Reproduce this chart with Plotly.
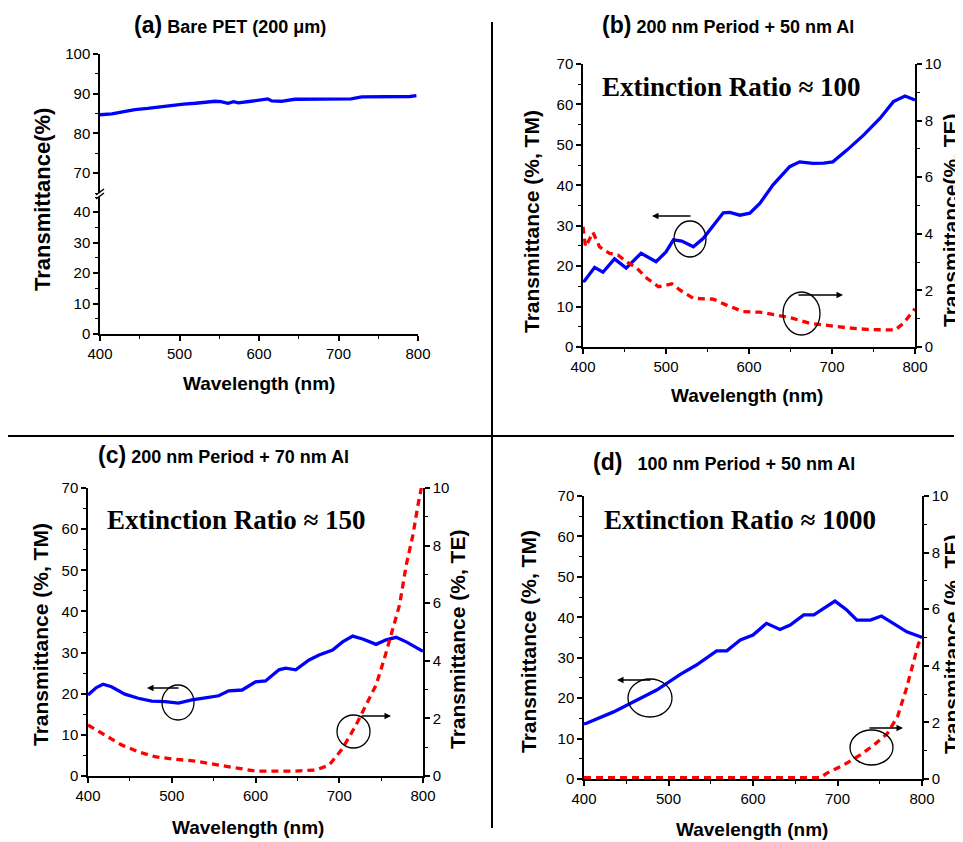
import plotly.graph_objects as go

# The page body has an 8 px margin, so the figure is drawn 8 px in from the window corner.
OFF = 8
W, H = 963 - OFF, 842 - OFF

# ---------------- data ----------------
a_wl = [400, 415, 430, 444, 460, 478, 495, 505, 520, 535, 545, 552, 561, 568, 574, 590, 605, 611, 616, 628, 645, 680, 716, 729, 760, 790, 798]
a_T = [84.7, 84.9, 85.5, 86.0, 86.3, 86.8, 87.2, 87.4, 87.6, 87.9, 88.1, 88.0, 87.6, 88.0, 87.7, 88.1, 88.4, 88.7, 88.2, 88.1, 88.6, 88.7, 88.7, 89.2, 89.2, 89.3, 89.5]

b_wl_tm = [400, 402, 414, 424, 438, 452, 470, 488, 500, 509, 519, 533, 545, 557, 569, 577, 589, 601, 613, 629, 649, 661, 677, 690, 701, 718, 738, 758, 774, 788, 800]
b_tm = [16.2, 16.4, 19.7, 18.5, 21.8, 19.5, 23.2, 21.1, 23.5, 26.5, 26.2, 24.8, 26.9, 30.2, 33.2, 33.3, 32.6, 33.1, 35.5, 40.1, 44.6, 45.8, 45.4, 45.5, 45.8, 48.7, 52.4, 56.6, 60.7, 62.1, 61.1]
b_wl_te = [400, 403, 406, 412, 420, 432, 442, 452, 465, 477, 491, 507, 517, 533, 557, 573, 593, 613, 633, 653, 673, 694, 718, 742, 762, 776, 786, 798, 800]
b_te = [4.25, 3.55, 3.7, 4.05, 3.54, 3.31, 3.25, 3.02, 2.78, 2.43, 2.13, 2.23, 2.01, 1.72, 1.69, 1.48, 1.25, 1.23, 1.13, 1.01, 0.84, 0.76, 0.68, 0.62, 0.60, 0.60, 0.84, 1.31, 1.35]

c_wl_tm = [400, 410, 418, 428, 444, 460, 476, 492, 508, 524, 540, 556, 568, 584, 600, 612, 628, 636, 648, 664, 676, 692, 704, 716, 728, 744, 756, 768, 780, 796, 800]
c_tm = [19.7, 21.5, 22.3, 21.7, 19.9, 18.9, 18.2, 18.1, 17.7, 18.5, 19.0, 19.5, 20.7, 20.9, 22.9, 23.1, 25.8, 26.2, 25.8, 28.2, 29.4, 30.6, 32.6, 34.0, 33.3, 32.0, 33.1, 33.7, 32.6, 30.6, 30.3]
c_wl_te = [400, 420, 440, 460, 480, 504, 528, 556, 580, 600, 624, 648, 672, 688, 704, 720, 732, 744, 754, 764, 772, 780, 788, 794, 798]
c_te = [1.77, 1.42, 1.08, 0.84, 0.67, 0.58, 0.52, 0.38, 0.27, 0.17, 0.17, 0.17, 0.21, 0.38, 0.96, 1.77, 2.47, 3.16, 4.09, 5.13, 5.94, 7.33, 8.37, 9.41, 10.0]

d_wl_tm = [400, 403, 435, 458, 486, 514, 533, 557, 569, 585, 600, 616, 632, 644, 660, 672, 684, 697, 711, 723, 739, 752, 766, 782, 798, 800]
d_tm = [13.6, 13.8, 16.6, 19.1, 22.0, 25.9, 28.2, 31.7, 31.7, 34.4, 35.6, 38.5, 37.0, 38.1, 40.6, 40.6, 42.2, 44.0, 41.8, 39.3, 39.3, 40.3, 38.5, 36.4, 35.2, 35.0]
d_wl_te = [400, 450, 500, 550, 600, 650, 680, 687, 707, 727, 743, 759, 771, 781, 790, 796, 800]
d_te = [0.05, 0.05, 0.04, 0.06, 0.04, 0.05, 0.05, 0.2, 0.49, 0.85, 1.2, 1.61, 2.2, 3.14, 4.09, 4.8, 4.95]

panel_titles = ["(a)", "Bare PET (200 μm)", "(b)", "200 nm Period + 50 nm Al",
                "(c)", "200 nm Period + 70 nm Al", "(d)", "100 nm Period + 50 nm Al"]
ratios = ["Extinction Ratio ≈ 100", "Extinction Ratio ≈ 150", "Extinction Ratio ≈ 1000"]

# ---------------- helpers (window pixel -> paper fraction) ----------------
def PX(x):
    return (x - OFF) / W

def PY(y):
    return 1 - (y - OFF) / H

FONT = "Liberation Sans, Arial, sans-serif"
SERIF = "Liberation Serif, Times New Roman, serif"
BLUE = "#0000FF"
RED = "#FF0000"

def axis(domain, rng, dtick, mdtick, anchor, **kw):
    d = dict(domain=domain, range=rng, dtick=dtick, tick0=0, showline=True, linecolor="black",
             linewidth=1.5, ticks="outside", ticklen=5, tickwidth=1.5, tickcolor="black",
             showgrid=False, zeroline=False, anchor=anchor, automargin=False,
             tickfont=dict(size=15, color="black", family=FONT),
             minor=dict(ticks="outside", ticklen=3, tickwidth=1.2, tickcolor="black", dtick=mdtick, tick0=0))
    d.update(kw)
    return d

fig = go.Figure()

tm_line = dict(color=BLUE, width=3.3)
te_line = dict(color=RED, width=3.3, dash="7px,5px")

# lower (broken) axis of panel (a) shares the same series, drawn invisibly to build the subplot
fig.add_trace(go.Scatter(x=a_wl, y=a_T, mode="none", xaxis="x", yaxis="y", hoverinfo="skip"))
fig.add_trace(go.Scatter(x=a_wl, y=a_T, mode="lines", line=tm_line, xaxis="x", yaxis="y2"))
fig.add_trace(go.Scatter(x=b_wl_tm, y=b_tm, mode="lines", line=tm_line, xaxis="x2", yaxis="y3"))
fig.add_trace(go.Scatter(x=b_wl_te, y=b_te, mode="lines", line=te_line, xaxis="x2", yaxis="y4"))
fig.add_trace(go.Scatter(x=c_wl_tm, y=c_tm, mode="lines", line=tm_line, xaxis="x3", yaxis="y5"))
fig.add_trace(go.Scatter(x=c_wl_te, y=c_te, mode="lines", line=te_line, xaxis="x3", yaxis="y6"))
fig.add_trace(go.Scatter(x=d_wl_tm, y=d_tm, mode="lines", line=tm_line, xaxis="x4", yaxis="y7"))
fig.add_trace(go.Scatter(x=d_wl_te, y=d_te, mode="lines", line=te_line, xaxis="x4", yaxis="y8"))

xr = [400, 800]
fig.update_layout(
    template="none",
    width=W, height=H, margin=dict(l=0, r=0, t=0, b=0, pad=0, autoexpand=False),
    paper_bgcolor="white", plot_bgcolor="rgba(0,0,0,0)", showlegend=False,
    font=dict(family=FONT, color="black"),
    # panel a
    xaxis=axis([PX(100), PX(418)], xr, 100, 50, "y"),
    yaxis=axis([PY(334), PY(197)], [0, 45], 10, 5, "x", tickvals=[0, 10, 20, 30, 40]),
    yaxis2=axis([PY(193), PY(54)], [65, 100], 10, 5, "x", tickvals=[70, 80, 90, 100]),
    # panel b
    xaxis2=axis([PX(583), PX(915)], xr, 100, 50, "y3"),
    yaxis3=axis([PY(347), PY(64)], [0, 70], 10, 5, "x2"),
    yaxis4=axis([PY(347), PY(64)], [0, 10], 2, 1, "x2", overlaying="y3", side="right"),
    # panel c
    xaxis3=axis([PX(88), PX(423)], xr, 100, 50, "y5"),
    yaxis5=axis([PY(776), PY(488)], [0, 70], 10, 5, "x3"),
    yaxis6=axis([PY(776), PY(488)], [0, 10], 2, 1, "x3", overlaying="y5", side="right"),
    # panel d
    xaxis4=axis([PX(584), PX(922)], xr, 100, 50, "y7"),
    yaxis7=axis([PY(779), PY(496)], [0, 70], 10, 5, "x4"),
    yaxis8=axis([PY(779), PY(496)], [0, 10], 2, 1, "x4", overlaying="y7", side="right"),
)

shapes = []
# divider lines
shapes.append(dict(type="line", xref="paper", yref="paper", x0=PX(492), x1=PX(492), y0=PY(22), y1=PY(828),
                   line=dict(color="black", width=2)))
shapes.append(dict(type="line", xref="paper", yref="paper", x0=PX(7), x1=PX(954), y0=PY(436), y1=PY(436),
                   line=dict(color="black", width=2)))
# axis break marks in (a)
for dy in (-2, 2):
    shapes.append(dict(type="line", xref="paper", yref="paper", x0=PX(96), x1=PX(104),
                       y0=PY(197 + dy), y1=PY(191 + dy), line=dict(color="black", width=1.5)))

# circles (pixel boxes)
circles = [(674, 221, 706, 257), (783, 292, 820, 335),
           (162, 685, 194, 720), (337, 715, 370, 748),
           (628, 679, 672, 717), (850, 730, 893, 765)]
for (x0, y0, x1, y1) in circles:
    shapes.append(dict(type="circle", xref="paper", yref="paper", x0=PX(x0), x1=PX(x1),
                       y0=PY(y1), y1=PY(y0), line=dict(color="black", width=1.3)))
fig.update_layout(shapes=shapes)

ann = []
# arrows: (tail_x, tail_y, head_x, head_y) in pixels
arrows = [(692, 216, 652, 216), (797, 295, 843, 295),
          (180, 688, 147, 688), (360, 716, 391, 716),
          (652, 680, 617, 680), (868, 728, 903, 728)]
for (tx, ty, hx, hy) in arrows:
    ann.append(dict(x=PX(hx), y=PY(hy), xref="paper", yref="paper", ax=tx - hx, ay=ty - hy,
                    axref="pixel", ayref="pixel", showarrow=True, arrowhead=2, arrowsize=1,
                    arrowwidth=1.3, arrowcolor="black", text=""))

def txt(x, y, s, size=17, angle=0, family=FONT, xanchor="center"):
    ann.append(dict(x=PX(x), y=PY(y), xref="paper", yref="paper", text=s, showarrow=False,
                    textangle=angle, xanchor=xanchor, yanchor="middle",
                    font=dict(size=size, family=family, color="black")))

# panel titles
def ptitle(x, y, tag, s, gap=" "):
    txt(x, y, "<b><span style='font-size:23px'>%s</span>%s%s</b>" % (tag, gap, s), 18)

ptitle(230, 25, panel_titles[0], panel_titles[1])
ptitle(728, 25, panel_titles[2], panel_titles[3])
ptitle(223, 455, panel_titles[4], panel_titles[5])
ptitle(724, 462, panel_titles[6], panel_titles[7], gap="   ")

# extinction ratio labels
txt(600, 87, "<b>%s</b>" % ratios[0], 27, family=SERIF, xanchor="left")
txt(105, 520, "<b>%s</b>" % ratios[1], 27, family=SERIF, xanchor="left")
txt(602, 520, "<b>%s</b>" % ratios[2], 27, family=SERIF, xanchor="left")

# x axis titles
txt(259, 383, "<b>Wavelength (nm)</b>", 19)
txt(747, 395, "<b>Wavelength (nm)</b>", 19)
txt(248, 827, "<b>Wavelength (nm)</b>", 19)
txt(752, 829, "<b>Wavelength (nm)</b>", 19)

# y axis titles
txt(42, 200, "<b>Transmittance(%)</b>", 22, angle=-90)
txt(532, 222, "<b>Transmittance (%, TM)</b>", 21, angle=-90)
txt(951, 220, "<b>Transmittance(%, TE)</b>", 21, angle=-90)
txt(40, 635, "<b>Transmittance (%, TM)</b>", 21, angle=-90)
txt(457, 640, "<b>Transmittance (%, TE)</b>", 21, angle=-90)
txt(528, 642, "<b>Transmittance (%, TM)</b>", 21, angle=-90)
txt(951, 645, "<b>Transmittance (%, TE)</b>", 21, angle=-90)

fig.update_layout(annotations=ann)
fig.write_html("out.html")
